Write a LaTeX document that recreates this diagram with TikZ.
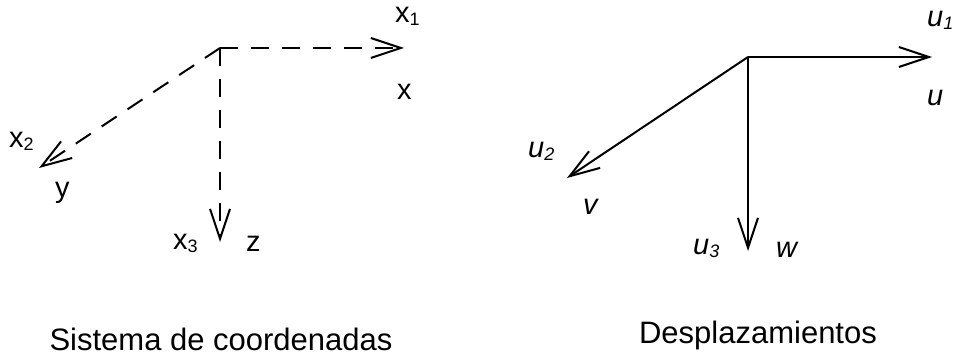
\documentclass[tikz,border=0pt]{standalone}
\usepackage{fontspec}
\setmainfont{Liberation Sans}
\usetikzlibrary{arrows.meta}
\newcommand\lblfont{\fontsize{29}{29}\selectfont}
\newcommand\capfont{\fontsize{31}{31}\selectfont}
\newcommand\subdig[1]{\raisebox{-2.5pt}{\fontsize{18}{18}\selectfont #1}}
\begin{document}
\begin{tikzpicture}[x=1pt,y=-1pt,
  axis/.style={line width=2pt, -{Straight Barb[length=30pt,width=20pt,line width=2pt]}},
  dashaxis/.style={axis, dash pattern=on 18pt off 13pt},
  lbl/.style={inner sep=0pt, anchor=base west, font=\lblfont},
  ilbl/.style={lbl, font=\lblfont\itshape},
  captext/.style={inner sep=0pt, anchor=base, font=\capfont}]
\useasboundingbox (0,0) rectangle (954,358);
% left system
\coordinate (o1) at (220,48);
\coordinate (t1x) at (404,48);
\coordinate (t1y) at (39,168);
\coordinate (t1z) at (220,242);
\draw[dashaxis] (o1) -- (t1x);
\draw[dashaxis] (o1) -- (t1y);
\draw[dashaxis] (o1) -- (t1z);
\node[lbl] (lx1) at (395,23) {x\subdig{1}};
\node[lbl] (lx) at (397,100) {x};
\node[lbl] (lx2) at (9,148) {x\subdig{2}};
\node[lbl] (ly) at (55,198) {y};
\node[lbl] (lx3) at (173,250) {x\subdig{3}};
\node[lbl] (lz) at (246,252) {z};
% right system
\coordinate (o2) at (748,57);
\coordinate (t2u) at (932,57);
\coordinate (t2v) at (567,178);
\coordinate (t2w) at (748,251);
\draw[axis] (o2) -- (t2u);
\draw[axis] (o2) -- (t2v);
\draw[axis] (o2) -- (t2w);
\node[ilbl] (lu1) at (927,27) {u\subdig{1}};
\node[ilbl] (lu) at (927,106) {u};
\node[ilbl] (lu2) at (528,158) {u\subdig{2}};
\node[ilbl] (lv) at (583,215) {v};
\node[ilbl] (lu3) at (693,255) {u\subdig{3}};
\node[ilbl] (lw) at (776,258) {w};
% captions
\node[captext] (c1) at (221,351) {Sistema de coordenadas};
\node[captext] (c2) at (758,344) {Desplazamientos};
\end{tikzpicture}
\end{document}
